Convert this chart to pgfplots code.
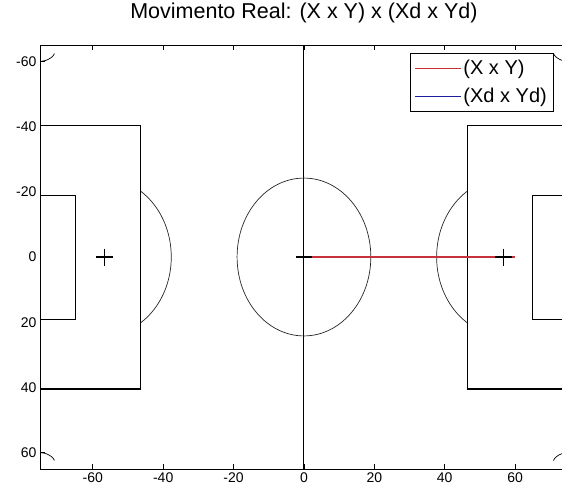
\documentclass[border=0pt]{standalone}
\usepackage{pgfplots}
\pgfplotsset{compat=1.18}
\usepackage{fontspec}
\setmainfont{Liberation Sans}
\definecolor{trajred}{RGB}{200,50,60}
\definecolor{trajblue}{RGB}{30,30,160}
\begin{document}
\begin{tikzpicture}
\begin{axis}[
  scale only axis, width=527.9pt, height=424pt,
  xmin=-75, xmax=75, ymin=-65, ymax=65, y dir=reverse,
  xtick={-60,-40,-20,0,20,40,60}, ytick={-60,-40,-20,0,20,40,60},
  xticklabels={-60,-40,-20,0,20,40,60},
  yticklabels={-60,-40,-20,0,20,40,60},
  tick align=inside, major tick length=5pt,
  tick style={black, line width=0.7pt},
  tick label style={font=\fontsize{14}{16}\selectfont},
  axis line style={line width=0.8pt},
  title={Movimento Real: (X x Y) x (Xd x Yd)},
  title style={font=\fontsize{21.5}{24}\selectfont, at={(0.5,1)}, anchor=base, yshift=20pt},
  legend cell align=left,
  reverse legend,
  legend style={at={(0.9718,0.981)}, anchor=north east, draw=black,
    font=\fontsize{20}{22}\selectfont, row sep=8pt, inner xsep=4pt, inner ysep=5pt},
  legend image code/.code={\draw[#1, line width=0.8pt] (0pt,0pt) -- (46pt,0pt);},
]
% penalty arcs (the part inside the box is hidden by the box fill)
\draw[line width=0.7pt, black!85] (axis cs:-56.7,0) ellipse [x radius=19, y radius=24];
\draw[line width=0.7pt, black!85] (axis cs:56.7,0) ellipse [x radius=19, y radius=24];
% penalty areas
\addplot[draw=black, fill=white, line width=0.8pt, forget plot]
  coordinates {(-75,-40.5) (-46.5,-40.5) (-46.5,40.5) (-75,40.5)} -- cycle;
\addplot[draw=black, fill=white, line width=0.8pt, forget plot]
  coordinates {(75,-40.5) (46.5,-40.5) (46.5,40.5) (75,40.5)} -- cycle;
\addplot[black, line width=1.6pt, forget plot] coordinates {(-75,40.5) (-46.5,40.5)};
\addplot[black, line width=1.6pt, forget plot] coordinates {(75,40.5) (46.5,40.5)};
% goal areas
\addplot[black, line width=0.8pt, forget plot] coordinates {(-75,-19) (-65,-19) (-65,19) (-75,19)};
\addplot[black, line width=0.8pt, forget plot] coordinates {(75,-19) (65,-19) (65,19) (75,19)};
% halfway line and centre circle
\addplot[black, line width=1pt, forget plot] coordinates {(0,-65) (0,65)};
\draw[line width=0.7pt, black!85] (axis cs:0,0) ellipse [x radius=19, y radius=24.2];
% corner arcs
\addplot[black, line width=0.7pt, forget plot] coordinates {(-75,-60) (-74.13,-60.08) (-73.29,-60.30) (-72.5,-60.67) (-71.79,-61.17) (-71.2,-61.8) (-70.9,-62.4)};
\addplot[black, line width=0.7pt, forget plot] coordinates {(-75,60) (-74.13,60.08) (-73.29,60.30) (-72.5,60.67) (-71.79,61.17) (-71.2,61.8) (-70.9,62.4)};
\addplot[black, line width=0.7pt, forget plot] coordinates {(75,-60) (74.13,-60.08) (73.29,-60.30) (72.5,-60.67) (71.79,-61.17) (71.2,-61.8) (70.9,-62.4)};
\addplot[black, line width=0.7pt, forget plot] coordinates {(75,60) (74.13,60.08) (73.29,60.30) (72.5,60.67) (71.79,61.17) (71.2,61.8) (70.9,62.4)};
% penalty spots and centre spot
\addplot[only marks, mark=+, mark size=8.5pt, line width=1.4pt, black, forget plot]
  coordinates {(-56.7,0) (56.7,0)};
\addplot[only marks, mark=-, mark size=7.8pt, line width=1.4pt, black, forget plot]
  coordinates {(0,0)};
% trajectories: desired path first, measured path on top
\addplot[trajblue, line width=1.2pt] coordinates {(0,0) (60,0)};
\addlegendentry{(Xd x Yd)}
\addplot[trajred, line width=1.2pt] coordinates {(0,0) (60,0)};
\addlegendentry{(X x Y)}
\end{axis}
\pgfresetboundingbox
\useasboundingbox (-40pt,-21pt) rectangle (522pt,469pt);
\end{tikzpicture}
\end{document}
